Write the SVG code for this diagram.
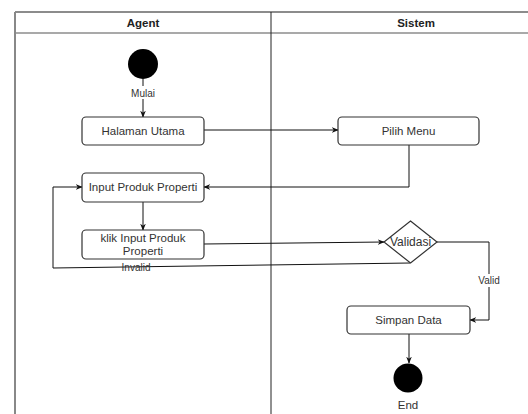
<svg xmlns="http://www.w3.org/2000/svg" width="528" height="414" viewBox="0 0 528 414">
<defs>
<marker id="arr" viewBox="0 0 10 10" refX="9" refY="5" markerWidth="7" markerHeight="7" orient="auto" markerUnits="userSpaceOnUse">
<path d="M0,1 L10,5 L0,9 L3,5 Z" fill="#111"/>
</marker>
</defs>
<style>
text{font-family:"Liberation Sans",Arial,sans-serif;font-size:11.5px;fill:#333;text-anchor:middle}
.hdr{font-weight:bold;fill:#222;font-size:11.5px}
.box{fill:#fff;stroke:#333;stroke-width:1.2}
.lane{stroke:#222;stroke-width:1;fill:none}
.edge{stroke:#111;stroke-width:1;fill:none}
.lbl{font-size:10px}
</style>
<rect width="528" height="414" fill="#fff"/>
<g id="swimlanes">
<line x1="15" y1="12" x2="528" y2="12" stroke="#666" stroke-width="1.5"/>
<line x1="15" y1="33" x2="528" y2="33" stroke="#555" stroke-width="1.2"/>
<line x1="15" y1="12" x2="15" y2="414" stroke="#888" stroke-width="2"/>
<line x1="271" y1="12" x2="271" y2="414" class="lane"/>
<text x="143" y="27" class="hdr">Agent</text>
<text x="416" y="27" class="hdr">Sistem</text>
</g>
<g id="connectors">
<path d="M143,79 V117" class="edge" marker-end="url(#arr)"/>
<rect x="128" y="86" width="30" height="13" fill="#fff"/>
<text x="143" y="97" class="lbl">Mulai</text>
<path d="M204,130 H338" class="edge" marker-end="url(#arr)"/>
<path d="M409,145 V187 H204" class="edge" marker-end="url(#arr)"/>
<path d="M143,202 V230" class="edge" marker-end="url(#arr)"/>
<path d="M204,244 L384,242" class="edge" marker-end="url(#arr)"/>
<path d="M410,263 L53,268 V187 H82" class="edge" marker-end="url(#arr)"/>
<text x="136" y="271" class="lbl">Invalid</text>
<path d="M437,242 H489 V320 H470" class="edge" marker-end="url(#arr)"/>
<rect x="477" y="274" width="25" height="13" fill="#fff"/>
<text x="489" y="284" class="lbl">Valid</text>
<path d="M409,334 V363" class="edge" marker-end="url(#arr)"/>
</g>
<g id="start">
<circle cx="143" cy="64" r="15" fill="#000"/>
</g>
<g id="halaman-utama">
<rect x="82" y="117" width="122" height="28" rx="4" class="box"/>
<text x="143" y="135">Halaman Utama</text>
</g>
<g id="pilih-menu">
<rect x="338" y="117" width="141" height="28" rx="4" class="box"/>
<text x="408.5" y="135">Pilih Menu</text>
</g>
<g id="input-produk">
<rect x="82" y="173" width="122" height="29" rx="4" class="box"/>
<text x="143" y="191">Input Produk Properti</text>
</g>
<g id="klik-input">
<rect x="82" y="230" width="122" height="29" rx="4" class="box"/>
<text x="143" y="242">klik Input Produk</text>
<text x="143" y="255">Properti</text>
</g>
<g id="validasi">
<polygon points="410.5,221 437,242 410.5,263 384,242" class="box"/>
<text x="410.5" y="246" style="font-size:12px">Validasi</text>
</g>
<g id="simpan-data">
<rect x="347" y="306" width="123" height="28" rx="4" class="box"/>
<text x="408.5" y="324">Simpan Data</text>
</g>
<g id="end">
<circle cx="408" cy="378" r="14.5" fill="#000"/>
<text x="408" y="409">End</text>
</g>
</svg>
